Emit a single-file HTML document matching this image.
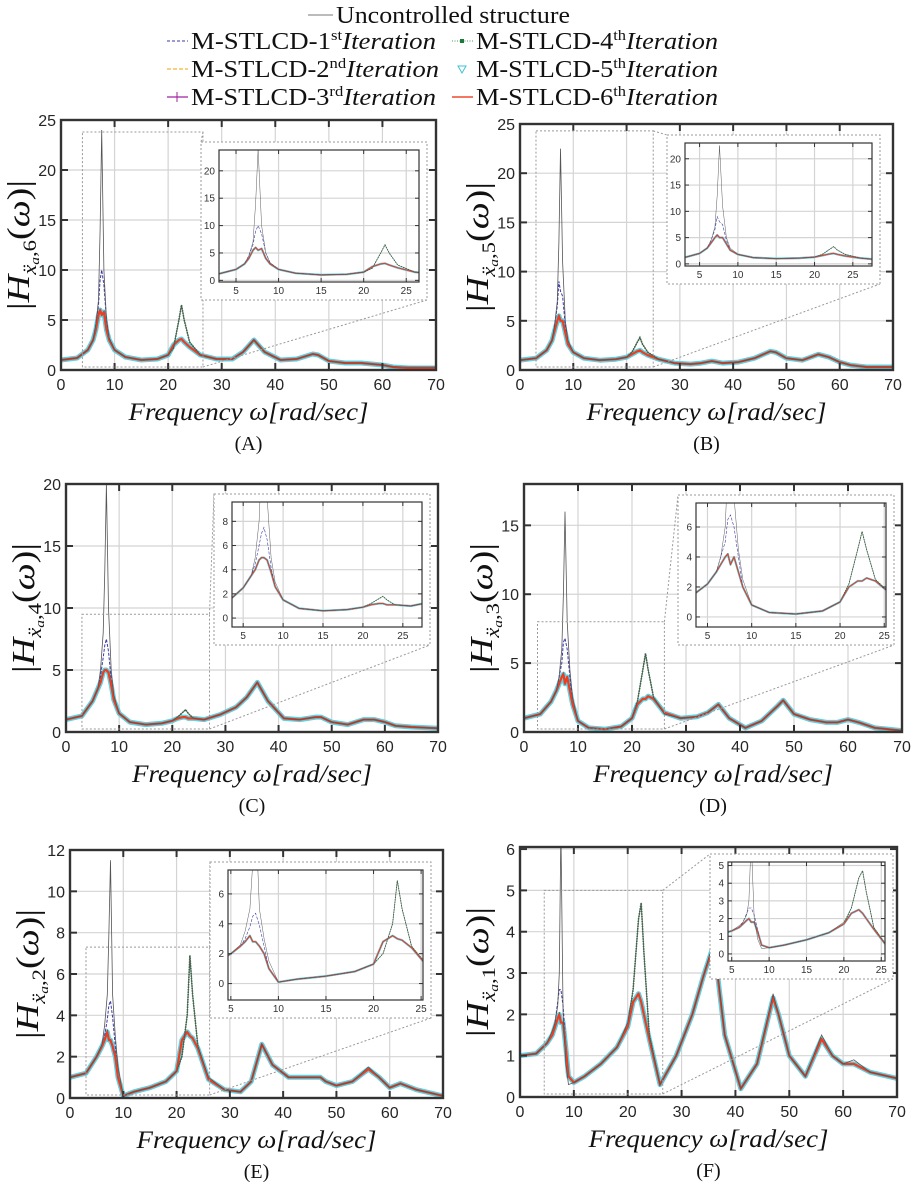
<!DOCTYPE html>
<html><head><meta charset="utf-8"><style>
html,body{margin:0;padding:0;background:#fff;}
svg{display:block;}
.tk{font-family:"Liberation Sans",sans-serif;font-size:16px;fill:#262626;}
.tki{font-family:"Liberation Sans",sans-serif;font-size:10px;fill:#333;}
.ser{font-family:"Liberation Serif",serif;fill:#111;}
</style></head><body>
<svg id="fig" width="913" height="1182" viewBox="0 0 913 1182" xmlns="http://www.w3.org/2000/svg">
<g class="ser" font-size="24">
  <line x1="308" y1="15" x2="333" y2="15" stroke="#777" stroke-width="1"/>
  <text x="336" y="23" textLength="234" lengthAdjust="spacingAndGlyphs">Uncontrolled structure</text>
  <line x1="167" y1="41" x2="188" y2="41" stroke="#3a3aa8" stroke-width="1" stroke-dasharray="3,2"/>
  <text x="191" y="49" textLength="245" lengthAdjust="spacingAndGlyphs">M-STLCD-1<tspan font-size="15" dy="-9">st</tspan><tspan font-style="italic" dy="9">Iteration</tspan></text>
  <line x1="167" y1="69" x2="188" y2="69" stroke="#f0a000" stroke-width="1" stroke-dasharray="4,2"/>
  <text x="191" y="77" textLength="248" lengthAdjust="spacingAndGlyphs">M-STLCD-2<tspan font-size="15" dy="-9">nd</tspan><tspan font-style="italic" dy="9">Iteration</tspan></text>
  <line x1="167" y1="97" x2="188" y2="97" stroke="#a020a0" stroke-width="1.2"/>
  <line x1="177" y1="92" x2="177" y2="102" stroke="#a020a0" stroke-width="1"/>
  <text x="191" y="105" textLength="245" lengthAdjust="spacingAndGlyphs">M-STLCD-3<tspan font-size="15" dy="-9">rd</tspan><tspan font-style="italic" dy="9">Iteration</tspan></text>
  <line x1="452" y1="41" x2="473" y2="41" stroke="#3c9c5c" stroke-width="1" stroke-dasharray="1,1.5"/>
  <rect x="460" y="39" width="4" height="4" fill="#1a7a3a"/>
  <text x="476" y="49" textLength="242" lengthAdjust="spacingAndGlyphs">M-STLCD-4<tspan font-size="15" dy="-9">th</tspan><tspan font-style="italic" dy="9">Iteration</tspan></text>
  <polygon points="458,66 466,66 462,73" fill="none" stroke="#40c0d8" stroke-width="1"/>
  <text x="476" y="77" textLength="242" lengthAdjust="spacingAndGlyphs">M-STLCD-5<tspan font-size="15" dy="-9">th</tspan><tspan font-style="italic" dy="9">Iteration</tspan></text>
  <line x1="452" y1="97" x2="473" y2="97" stroke="#f04a30" stroke-width="1.6"/>
  <text x="476" y="105" textLength="242" lengthAdjust="spacingAndGlyphs">M-STLCD-6<tspan font-size="15" dy="-9">th</tspan><tspan font-style="italic" dy="9">Iteration</tspan></text>
</g>
</svg>
<script>
const freq = [0,3,5,6,6.5,7,7.3,7.6,8,8.5,9,10,12,15,18,20,21,22,22.5,23,24,26,29,32,34,36,38,41,44,47,48,50,53,56,58,60,62,65,70];
const xTicks = [0,10,20,30,40,50,60,70];
const insetXTicks = [5,10,15,20,25];

const uncA = [1.0,1.2,2.0,3.0,4.5,7.0,14,24,10,5.0,3.2,2.0,1.3,1.0,1.1,1.5,2.2,5.0,6.5,5.0,2.8,1.5,1.1,1.1,1.8,3.0,1.8,1.0,1.1,1.6,1.5,0.9,0.7,0.7,0.6,0.5,0.3,0.3,0.3];
const ctlA = [1.0,1.2,2.0,3.0,4.0,5.5,6.0,5.5,5.8,4.0,3.0,2.0,1.3,1.0,1.1,1.5,2.5,3.0,3.1,2.8,2.3,1.5,1.1,1.1,1.8,3.0,1.8,1.0,1.1,1.6,1.5,0.9,0.7,0.7,0.6,0.5,0.3,0.2,0.2];
const it1A = [1.0,1.2,2.0,3.0,4.5,6.5,9.0,10,8.5,5.0,3.2,2.0,1.3,1.0,1.1,1.5,2.5,3.0,3.1,2.8,2.3,1.5,1.1,1.1,1.8,3.0,1.8,1.0,1.1,1.6,1.5,0.9,0.7,0.7,0.6,0.5,0.3,0.2,0.2];
const it4A = [1.0,1.2,2.0,3.0,4.0,5.5,6.0,5.5,5.8,4.0,3.0,2.0,1.3,1.0,1.1,1.5,2.2,5.0,6.5,5.0,2.8,1.5,1.1,1.1,1.8,3.0,1.8,1.0,1.1,1.6,1.5,0.9,0.7,0.7,0.6,0.5,0.3,0.2,0.2];

const uncB = [1.0,1.2,2.0,3.0,4.5,7.0,13,22.5,11,5.0,3.0,1.8,1.2,1.0,1.1,1.3,1.8,2.8,3.3,2.6,1.8,1.1,0.7,0.6,0.7,0.9,0.7,0.8,1.2,1.9,1.8,1.2,1.0,1.6,1.3,0.8,0.5,0.3,0.3];
const ctlB = [1.0,1.2,2.0,3.0,4.0,5.0,5.5,5.0,5.0,3.8,2.6,1.8,1.2,1.0,1.1,1.3,1.6,1.9,2.0,1.8,1.5,1.1,0.7,0.6,0.7,0.9,0.7,0.8,1.2,1.9,1.8,1.2,1.0,1.6,1.3,0.8,0.5,0.3,0.3];
const it1B = [1.0,1.2,2.0,3.0,4.5,6.5,9.0,8.0,7.5,4.5,2.6,1.8,1.2,1.0,1.1,1.3,1.6,1.9,2.0,1.8,1.5,1.1,0.7,0.6,0.7,0.9,0.7,0.8,1.2,1.9,1.8,1.2,1.0,1.6,1.3,0.8,0.5,0.3,0.3];
const it4B = [1.0,1.2,2.0,3.0,4.0,5.0,5.5,5.0,5.0,3.8,2.6,1.8,1.2,1.0,1.1,1.3,1.8,2.8,3.3,2.6,1.8,1.1,0.7,0.6,0.7,0.9,0.7,0.8,1.2,1.9,1.8,1.2,1.0,1.6,1.3,0.8,0.5,0.3,0.3];

const uncC = [1.0,1.3,2.5,3.5,5.0,8.0,13,20,10,5.0,3.0,1.5,0.8,0.6,0.7,0.9,1.2,1.6,1.8,1.5,1.1,1.0,1.4,2.0,2.8,4.0,2.5,1.1,1.0,1.2,1.2,0.8,0.6,1.0,1.0,0.8,0.5,0.4,0.3];
const ctlC = [1.0,1.3,2.5,3.5,4.0,4.8,5.0,5.0,4.8,3.8,2.6,1.5,0.8,0.6,0.7,0.9,1.1,1.2,1.2,1.1,1.1,1.0,1.4,2.0,2.8,4.0,2.5,1.1,1.0,1.2,1.2,0.8,0.6,1.0,1.0,0.8,0.5,0.4,0.3];
const it1C = [1.0,1.3,2.5,3.5,4.5,6.0,7.0,7.5,6.5,4.2,2.6,1.5,0.8,0.6,0.7,0.9,1.1,1.2,1.2,1.1,1.1,1.0,1.4,2.0,2.8,4.0,2.5,1.1,1.0,1.2,1.2,0.8,0.6,1.0,1.0,0.8,0.5,0.4,0.3];
const it4C = [1.0,1.3,2.5,3.5,4.0,4.8,5.0,5.0,4.8,3.8,2.6,1.5,0.8,0.6,0.7,0.9,1.2,1.6,1.8,1.5,1.1,1.0,1.4,2.0,2.8,4.0,2.5,1.1,1.0,1.2,1.2,0.8,0.6,1.0,1.0,0.8,0.5,0.4,0.3];

const uncD = [1.0,1.3,2.2,3.0,4.0,6.0,10,16,8.0,4.5,2.5,0.8,0.3,0.2,0.4,1.0,2.2,4.5,5.7,4.5,2.5,1.3,1.0,1.1,1.4,2.0,1.0,0.3,0.8,1.9,2.3,1.3,0.9,0.7,0.7,0.9,0.7,0.3,0.1];
const ctlD = [1.0,1.3,2.2,3.0,3.5,4.0,4.2,3.5,4.0,3.0,2.0,0.8,0.3,0.2,0.4,1.0,2.0,2.4,2.4,2.6,2.4,1.4,1.0,1.1,1.4,2.0,1.0,0.3,0.8,1.9,2.3,1.3,0.9,0.7,0.7,0.9,0.7,0.3,0.1];
const it1D = [1.0,1.3,2.2,3.0,4.0,5.0,6.5,6.8,6.0,4.0,2.0,0.8,0.3,0.2,0.4,1.0,2.0,2.4,2.4,2.6,2.4,1.4,1.0,1.1,1.4,2.0,1.0,0.3,0.8,1.9,2.3,1.3,0.9,0.7,0.7,0.9,0.7,0.3,0.1];
const it4D = [1.0,1.3,2.2,3.0,3.5,4.0,4.2,3.5,4.0,3.0,2.0,0.8,0.3,0.2,0.4,1.0,2.2,4.5,5.7,4.5,2.5,1.4,1.0,1.1,1.4,2.0,1.0,0.3,0.8,1.9,2.3,1.3,0.9,0.7,0.7,0.9,0.7,0.3,0.1];

const uncE = [1.0,1.2,2.0,2.6,3.5,5.0,8.0,11.5,5.0,3.0,1.5,0.1,0.3,0.5,0.8,1.3,2.0,4.0,6.9,5.0,2.5,1.0,0.4,0.3,0.8,2.6,1.6,1.0,1.0,1.0,0.8,0.6,0.8,1.5,1.0,0.5,0.7,0.4,0.1];
const ctlE = [1.0,1.2,2.0,2.5,2.8,3.2,2.8,2.8,2.5,2.0,1.0,0.1,0.3,0.5,0.8,1.3,2.8,3.2,3.0,2.9,2.4,0.9,0.4,0.3,0.8,2.6,1.6,1.0,1.0,1.0,0.8,0.6,0.8,1.4,1.0,0.5,0.7,0.4,0.1];
const it1E = [1.0,1.2,2.0,2.5,3.0,3.8,4.5,4.7,3.9,2.5,1.0,0.1,0.3,0.5,0.8,1.3,2.8,3.2,3.0,2.9,2.4,0.9,0.4,0.3,0.8,2.6,1.6,1.0,1.0,1.0,0.8,0.6,0.8,1.4,1.0,0.5,0.7,0.4,0.1];
const it4E = [1.0,1.2,2.0,2.5,2.8,3.2,2.8,2.8,2.5,2.0,1.0,0.1,0.3,0.5,0.8,1.3,2.0,4.0,6.9,5.0,2.5,0.9,0.4,0.3,0.8,2.6,1.6,1.0,1.0,1.0,0.8,0.6,0.8,1.4,1.0,0.5,0.7,0.4,0.1];

const uncF = [1.0,1.05,1.3,1.6,1.8,2.2,3.0,6.5,2.0,0.8,0.3,0.35,0.5,0.8,1.2,1.8,2.6,4.3,4.7,3.5,1.5,0.3,1.0,2.0,2.9,3.8,1.5,0.2,0.8,2.5,2.0,1.0,0.5,1.5,1.0,0.8,0.9,0.6,0.45];
const ctlF = [1.0,1.05,1.3,1.5,1.7,1.9,2.0,1.8,1.8,1.2,0.5,0.35,0.5,0.8,1.2,1.7,2.3,2.5,2.3,2.0,1.4,0.3,1.0,2.0,2.9,3.7,1.5,0.2,0.8,2.4,2.0,1.0,0.5,1.4,1.0,0.8,0.8,0.6,0.45];
const it1F = [1.0,1.05,1.3,1.5,1.8,2.3,2.6,2.6,2.2,1.3,0.5,0.35,0.5,0.8,1.2,1.7,2.3,2.5,2.3,2.0,1.4,0.3,1.0,2.0,2.9,3.7,1.5,0.2,0.8,2.4,2.0,1.0,0.5,1.4,1.0,0.8,0.8,0.6,0.45];
const it4F = [1.0,1.05,1.3,1.5,1.7,1.9,2.0,1.8,1.8,1.2,0.5,0.35,0.5,0.8,1.2,1.7,2.6,4.3,4.7,3.5,1.5,0.3,1.0,2.0,2.9,3.7,1.5,0.2,0.8,2.4,2.0,1.0,0.5,1.4,1.0,0.8,0.8,0.6,0.45];

const yTicksA = [0,5,10,15,20,25], yTicksB = [0,5,10,15,20,25], yTicksC = [0,5,10,15,20];
const yTicksD = [0,5,10,15], yTicksE = [0,2,4,6,8,10,12], yTicksF = [0,1,2,3,4,5,6];
const iyTicksA = [0,5,10,15,20], iyTicksB = [0,5,10,15,20], iyTicksC = [0,2,4,6,8];
const iyTicksD = [0,2,4,6], iyTicksE = [0,2,4,6], iyTicksF = [0,1,2,3,4,5];

const NS = 'http://www.w3.org/2000/svg';
const svg = document.getElementById('fig');
let clipN = 0;
function mk(tag, attrs, parent) {
  const e = document.createElementNS(NS, tag);
  for (const k in attrs) e.setAttribute(k, attrs[k]);
  (parent || svg).appendChild(e);
  return e;
}

const panels = [
 {id:'a', cap:'(A)', sub:'6', x0:61, x1:436, y0:120, y1:370, ymax:25, yt:yTicksA, unc:uncA, ctl:ctlA, it1:it1A, it4:it4A,
  ins:{x0:219,x1:419,y0:150,y1:282,xmin:3,xmax:26.5,ymin:-0.3,ymax:23.8,yt:iyTicksA}, src:{xmin:4,xmax:26.5,ymax:23.8}},
 {id:'b', cap:'(B)', sub:'5', x0:520, x1:893, y0:124, y1:370, ymax:25, yt:yTicksB, unc:uncB, ctl:ctlB, it1:it1B, it4:it4B,
  ins:{x0:685,x1:872,y0:143,y1:266,xmin:3.1,xmax:27.5,ymin:-0.4,ymax:23,yt:iyTicksB}, src:{xmin:3,xmax:25,ymax:24.3}},
 {id:'c', cap:'(C)', sub:'4', x0:66, x1:438, y0:484, y1:732, ymax:20, yt:yTicksC, unc:uncC, ctl:ctlC, it1:it1C, it4:it4C,
  ins:{x0:232,x1:422,y0:502,y1:627,xmin:3.6,xmax:27.4,ymin:-0.74,ymax:9.6,yt:iyTicksC}, src:{xmin:3,xmax:27,ymax:9.5}},
 {id:'d', cap:'(D)', sub:'3', x0:524, x1:902, y0:484, y1:732, ymax:18, yt:yTicksD, unc:uncD, ctl:ctlD, it1:it1D, it4:it4D,
  ins:{x0:696,x1:886,y0:503,y1:627,xmin:3.7,xmax:25.2,ymin:-0.67,ymax:7.6,yt:iyTicksD}, src:{xmin:2.5,xmax:26,ymax:8}},
 {id:'e', cap:'(E)', sub:'2', x0:70, x1:443, y0:850, y1:1098, ymax:12, yt:yTicksE, unc:uncE, ctl:ctlE, it1:it1E, it4:it4E,
  ins:{x0:228,x1:423,y0:870,y1:1000,xmin:4.7,xmax:25.2,ymin:-1.1,ymax:7.6,yt:iyTicksE}, src:{xmin:3,xmax:26.2,ymax:7.3}},
 {id:'f', cap:'(F)', sub:'1', x0:520, x1:897, y0:847, y1:1097, ymax:6.05, yt:yTicksF, unc:uncF, ctl:ctlF, it1:it1F, it4:it4F,
  ins:{x0:728,x1:885,y0:862,y1:961,xmin:4.5,xmax:25.5,ymin:-0.4,ymax:5.2,yt:iyTicksF}, src:{xmin:4.5,xmax:26.5,ymax:5}}
];

function drawSeries(g, p, sx, sy, small) {
  const pts = a => a.map((v,i)=>sx(freq[i]).toFixed(1)+','+sy(v).toFixed(1)).join(' ');
  const w = small ? 0.6 : 1;
  let e;
  e = mk('polyline',{points:pts(p.ctl),fill:'none',stroke:'#5cd0e4','stroke-width':small?2.2:5,'stroke-linejoin':'round'},g);
   
  e = mk('polyline',{points:pts(p.it4),fill:'none',stroke:'#1a7a3a','stroke-width':1.6*w,'stroke-dasharray':'1.5,1'},g);
   
  e = mk('polyline',{points:pts(p.it1),fill:'none',stroke:'#3a3aa8','stroke-width':1*w,'stroke-dasharray':'3,1.5'},g);
   
  e = mk('polyline',{points:pts(p.ctl),fill:'none',stroke:'#f0a000','stroke-width':1*w,'stroke-dasharray':'3,2'},g);
   
  e = mk('polyline',{points:pts(p.ctl),fill:'none',stroke:'#a020a0','stroke-width':1.2*w},g);
   
  e = mk('polyline',{points:pts(p.ctl),fill:'none',stroke:'#f03c1e','stroke-width':small?1:2.2,'stroke-linejoin':'round'},g);
   
  e = mk('polyline',{points:pts(p.unc),fill:'none',stroke:'#555','stroke-width':0.8*w},g);
   
}

function axesBox(g, x0,x1,y0,y1, xmin,xmax,ymin,ymax, xt, yt, small) {
  const sx = v => x0 + (v-xmin)/(xmax-xmin)*(x1-x0);
  const sy = v => y1 - (v-ymin)/(ymax-ymin)*(y1-y0);
  const tl = small ? 4 : 7;
  xt.forEach(t => {
    const x = sx(t);
    mk('line',{x1:x,y1:y0,x2:x,y2:y1,stroke:'#d4d4d4','stroke-width':1.2},g);
  });
  yt.forEach(t => {
    const y = sy(t);
    mk('line',{x1:x0,y1:y,x2:x1,y2:y,stroke:'#d4d4d4','stroke-width':1.2},g);
  });
  return {sx, sy, tl};
}

function ticksAndFrame(g, ax, x0,x1,y0,y1, xt, yt, small) {
  const {sx, sy, tl} = ax;
  const col = '#333';
  xt.forEach(t => {
    const x = sx(t);
    mk('line',{x1:x,y1:y1,x2:x,y2:y1-tl,stroke:col,'stroke-width':small?1:2},g);
    mk('line',{x1:x,y1:y0,x2:x,y2:y0+tl,stroke:col,'stroke-width':small?1:2},g);
    const tx = mk('text',{x:x,y:y1+(small?12:20),'text-anchor':'middle','class':small?'tki':'tk'},g);
    tx.textContent = t;
  });
  yt.forEach(t => {
    const y = sy(t);
    mk('line',{x1:x0,y1:y,x2:x0+tl,y2:y,stroke:col,'stroke-width':small?1:2},g);
    mk('line',{x1:x1,y1:y,x2:x1-tl,y2:y,stroke:col,'stroke-width':small?1:2},g);
    const tx = mk('text',{x:x0-(small?4:5),y:y+(small?3.5:6),'text-anchor':'end','class':small?'tki':'tk'},g);
    tx.textContent = t;
  });
  mk('rect',{x:x0,y:y0,width:x1-x0,height:y1-y0,fill:'none',stroke:col,'stroke-width':small?1.2:2.4},g);
}

function clip(g, x0,y0,x1,y1) {
  const id = 'cl'+(clipN++);
  const cp = mk('clipPath',{id:id},g);
  mk('rect',{x:x0,y:y0,width:x1-x0,height:y1-y0},cp);
  return id;
}

panels.forEach(p => {
  const g = mk('g',{});
  
  
  const ax = axesBox(g, p.x0,p.x1,p.y0,p.y1, 0,70,0,p.ymax, xTicks, p.yt, false);
  const cid = clip(g, p.x0,p.y0,p.x1,p.y1);
  const sg = mk('g',{'clip-path':'url(#'+cid+')'},g);
  
  
  drawSeries(sg, p, ax.sx, ax.sy, false);
  ticksAndFrame(g, ax, p.x0,p.x1,p.y0,p.y1, xTicks, p.yt, false);

  const s = p.src, I = p.ins;
  const sx0 = ax.sx(s.xmin), sx1 = ax.sx(s.xmax), syT = ax.sy(s.ymax), syB = p.y1 - 3;
  const oX0 = I.x0-18, oX1 = I.x1+8, oY0 = I.y0-8, oY1 = I.y1+18;
  const dash = {fill:'none',stroke:'#999','stroke-width':1,'stroke-dasharray':'2,2'};
  let r = mk('rect',Object.assign({x:sx0,y:syT,width:sx1-sx0,height:syB-syT},dash),g);
   
  mk('line',Object.assign({x1:sx1,y1:syT,x2:oX0,y2:oY0},dash),g);
  mk('line',Object.assign({x1:sx1,y1:syB,x2:oX1,y2:oY1},dash),g);
  const ig = mk('g',{},g);
  
  
  mk('rect',{x:oX0,y:oY0,width:oX1-oX0,height:oY1-oY0,fill:'#fff',stroke:'#999','stroke-width':1,'stroke-dasharray':'2,2'},ig);
  const iax = axesBox(ig, I.x0,I.x1,I.y0,I.y1, I.xmin,I.xmax,I.ymin,I.ymax, insetXTicks, I.yt, true);
  const icid = clip(ig, I.x0,I.y0,I.x1,I.y1);
  const isg = mk('g',{'clip-path':'url(#'+icid+')'},ig);
  drawSeries(isg, p, iax.sx, iax.sy, true);
  ticksAndFrame(ig, iax, I.x0,I.x1,I.y0,I.y1, insetXTicks, I.yt, true);

  const cx = (p.x0+p.x1)/2;
  const xt = mk('text',{x:cx-120,y:p.y1+50,textLength:240,lengthAdjust:'spacingAndGlyphs','class':'ser','font-size':'25','font-style':'italic'},g);
   
  xt.textContent = 'Frequency ω[rad/sec]';
  const cap = mk('text',{x:cx,y:p.y1+80,'text-anchor':'middle','class':'ser','font-size':'20'},g);
   
  cap.textContent = p.cap;
  const cy = (p.y0+p.y1)/2;
  const lx = p.x0-32;
  const yl = mk('text',{x:-65,y:0,textLength:130,lengthAdjust:'spacingAndGlyphs','class':'ser','font-size':'32',transform:'translate('+lx+','+cy+') rotate(-90)'},g);
   
  const t1 = mk('tspan',{},yl); t1.textContent='|';
  const t2 = mk('tspan',{'font-style':'italic'},yl); t2.textContent='H';
  const t3 = mk('tspan',{'font-style':'italic','font-size':'19',dy:'7'},yl); t3.textContent='ẍ';
  const t4 = mk('tspan',{'font-style':'italic','font-size':'13',dy:'3'},yl); t4.textContent='a';
  const t5 = mk('tspan',{'font-size':'19',dy:'-3'},yl); t5.textContent=','+p.sub;
  const t6 = mk('tspan',{dy:'-7'},yl); t6.textContent='(';
  const t7 = mk('tspan',{'font-style':'italic'},yl); t7.textContent='ω';
  const t8 = mk('tspan',{},yl); t8.textContent=')|';
});
</script>
</body></html>
